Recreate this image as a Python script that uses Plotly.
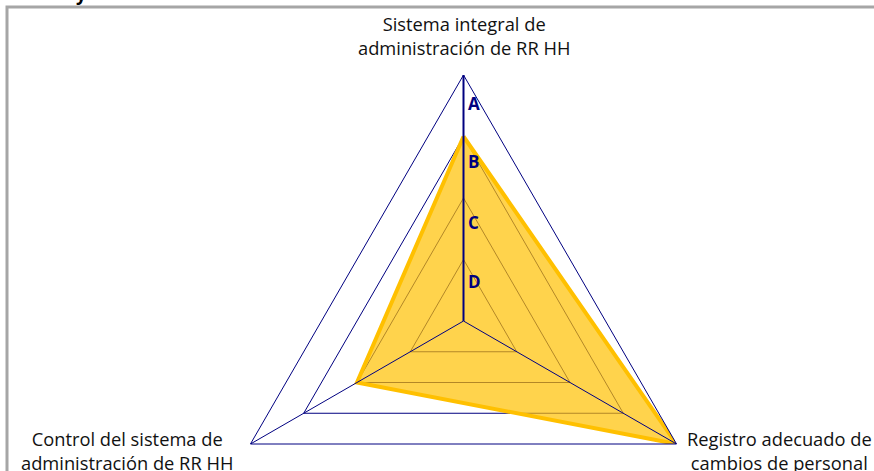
import plotly.graph_objects as go

# Radar chart: three evaluation axes, grades D (lowest) to A (highest)
categories = [
    "Sistema integral de<br>administración de RR HH",
    "Registro adecuado de<br>cambios de personal",
    "Control del sistema de<br>administración de RR HH",
]
values = [3, 4, 2]
grade_labels = ["D", "C", "B", "A"]
grade_label_r = [0.6, 1.57, 2.55, 3.5]
RMAX = 4

NAVY = "#000080"
GOLD = "#FFC000"
FONT = "Open Sans"

W, H = 874, 567
ML, MR, MT, MB = 53, 0, 75, 0


def px_x(x):
    return (x - ML) / (W - ML - MR)


def px_y(y):
    return (H - MB - y) / (H - MT - MB)


fig = go.Figure()

# filled series polygon
fig.add_trace(go.Scatterpolar(
    r=values + values[:1],
    theta=categories + categories[:1],
    mode="lines",
    fill="toself",
    fillcolor="rgba(255,192,0,0.7)",
    line=dict(color=GOLD, width=4),
    hoverinfo="skip",
    showlegend=False,
))

# spokes drawn over the fill
spoke_r, spoke_t = [], []
for c in categories:
    spoke_r += [0, RMAX, None]
    spoke_t += [c, c, None]
fig.add_trace(go.Scatterpolar(
    r=spoke_r, theta=spoke_t, mode="lines",
    line=dict(color=NAVY, width=1),
    hoverinfo="skip", showlegend=False,
))

# grade letters along the vertical axis
fig.add_trace(go.Scatterpolar(
    r=grade_label_r,
    theta=[categories[0]] * len(grade_labels),
    mode="text",
    text=["\u00a0" + g for g in grade_labels],
    textposition="middle right",
    textfont=dict(family=FONT, size=17, color=NAVY, weight="bold"),
    cliponaxis=False,
    hoverinfo="skip", showlegend=False,
))

fig.update_layout(
    width=W, height=H,
    margin=dict(l=ML, r=MR, t=MT, b=MB, pad=0),
    paper_bgcolor="white",
    showlegend=False,
    polar=dict(
        domain=dict(x=[0, 1], y=[0, 1]),
        bgcolor="white",
        gridshape="linear",
        radialaxis=dict(
            range=[0, RMAX], tick0=0, dtick=1,
            showgrid=True, gridcolor=NAVY, gridwidth=1,
            showline=True, linecolor=NAVY, linewidth=2,
            showticklabels=False, ticks="", angle=90,
        ),
        angularaxis=dict(
            type="category", rotation=90, direction="clockwise",
            showgrid=False, showline=True, linecolor=NAVY, linewidth=1,
            showticklabels=False, ticks="",
        ),
    ),
)

# category labels around the triangle
label_pos = [(464, 36), (779, 451), (127, 451)]
for text, (x, y) in zip(categories, label_pos):
    fig.add_annotation(
        x=px_x(x), y=px_y(y), xref="paper", yref="paper",
        text=text, showarrow=False, xanchor="center", yanchor="middle",
        align="center", font=dict(family=FONT, size=18.3, color="#111111"),
    )

# title descender peeking in at the top edge
fig.add_annotation(
    x=px_x(81), y=px_y(-6), xref="paper", yref="paper",
    text="y", showarrow=False, xanchor="center", yanchor="middle",
    font=dict(family=FONT, size=18, color="#000000", weight="bold"),
)

# chart frame
fig.add_shape(
    type="rect", xref="paper", yref="paper",
    x0=px_x(7), y0=px_y(H + 20), x1=px_x(W + 20), y1=px_y(7),
    line=dict(color="#A6A6A6", width=3), fillcolor="rgba(0,0,0,0)",
    layer="below",
)

fig.write_html(
    "out.html",
    post_script="document.documentElement.style.overflow='hidden';"
                "document.body.style.overflow='hidden';"
                "document.body.style.margin='0';",
)
